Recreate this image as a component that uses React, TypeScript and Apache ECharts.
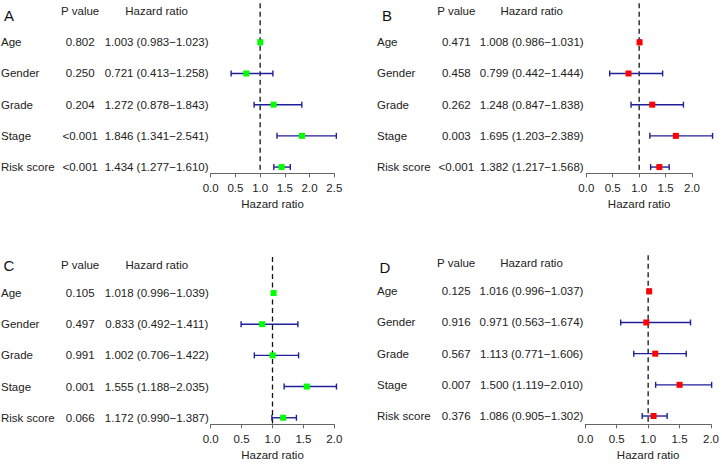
import React, { useEffect, useRef } from "react";
import * as echarts from "echarts";

// ---------- DATA ----------
const variables = ["Age", "Gender", "Grade", "Stage", "Risk score"];
const headerLabels = ["P value", "Hazard ratio"];
const panelLetters = ["A", "B", "C", "D"];
const referenceLine = 1;
const xTicksA = [0, 0.5, 1, 1.5, 2, 2.5];
const xTicksBCD = [0, 0.5, 1, 1.5, 2];

const pValuesA = ["0.802", "0.250", "0.204", "<0.001", "<0.001"];
const hrA = [1.003, 0.721, 1.272, 1.846, 1.434];
const lowA = [0.983, 0.413, 0.878, 1.341, 1.277];
const highA = [1.023, 1.258, 1.843, 2.541, 1.61];

const pValuesB = ["0.471", "0.458", "0.262", "0.003", "<0.001"];
const hrB = [1.008, 0.799, 1.248, 1.695, 1.382];
const lowB = [0.986, 0.442, 0.847, 1.203, 1.217];
const highB = [1.031, 1.444, 1.838, 2.389, 1.568];

const pValuesC = ["0.105", "0.497", "0.991", "0.001", "0.066"];
const hrC = [1.018, 0.833, 1.002, 1.555, 1.172];
const lowC = [0.996, 0.492, 0.706, 1.188, 0.99];
const highC = [1.039, 1.411, 1.422, 2.035, 1.387];

const pValuesD = ["0.125", "0.916", "0.567", "0.007", "0.376"];
const hrD = [1.016, 0.971, 1.113, 1.5, 1.086];
const lowD = [0.996, 0.563, 0.771, 1.119, 0.905];
const highD = [1.037, 1.674, 1.606, 2.01, 1.302];

// ---------- LAYOUT / STYLE ----------
const FONT = "'Liberation Sans', Arial, Helvetica, sans-serif";
const TEXT_COLOR = "#222";
const BAR_COLOR = "#1f1f99";

const panels = [
  {
    p: pValuesA, hr: hrA, lo: lowA, hi: highA, ticks: xTicksA, color: "#00ff00",
    left: 210.7, width: 123.6, top: 3.3, height: 170, yMin: -0.25, yMax: 5.2, headerRow: 0,
    labelX: 1, pX: 80.2, hrX: 156.6, letterX: 9, letterY: 15,
  },
  {
    p: pValuesB, hr: hrB, lo: lowB, hi: highB, ticks: xTicksBCD, color: "#ff0000",
    left: 586.3, width: 105.7, top: 3.3, height: 170, yMin: -0.25, yMax: 5.2, headerRow: 0,
    labelX: 377, pX: 456.3, hrX: 531.7, letterX: 387, letterY: 15,
  },
  {
    p: pValuesC, hr: hrC, lo: lowC, hi: highC, ticks: xTicksBCD, color: "#00ff00",
    left: 210.7, width: 123.6, top: 257, height: 167.3, yMin: -0.154, yMax: 5.21, headerRow: 0.11,
    labelX: 1, pX: 80.2, hrX: 156.8, letterX: 9, letterY: 265.5,
  },
  {
    p: pValuesD, hr: hrD, lo: lowD, hi: highD, ticks: xTicksBCD, color: "#ff0000",
    left: 585.3, width: 125.7, top: 255.3, height: 169, yMin: -0.155, yMax: 5.266, headerRow: 0.092,
    labelX: 377, pX: 456.2, hrX: 531.5, letterX: 385, letterY: 267,
  },
];

const fmt = (v: number) => v.toFixed(3);

export default function App() {
  const ref = useRef<HTMLDivElement>(null);

  useEffect(() => {
    document.body.style.margin = "0";
    if (!ref.current) return;
    const chart = echarts.init(ref.current, null, { renderer: "svg" });

    const grid: any[] = [];
    const xAxis: any[] = [];
    const yAxis: any[] = [];
    const series: any[] = [];
    const graphic: any[] = [];

    panels.forEach((pn, i) => {
      grid.push({ left: pn.left, top: pn.top, width: pn.width, height: pn.height, containLabel: false });
      const xMax = pn.ticks[pn.ticks.length - 1];
      xAxis.push({
        gridIndex: i,
        type: "value",
        min: pn.ticks[0],
        max: xMax,
        interval: 0.5,
        name: "Hazard ratio",
        nameLocation: "middle",
        nameGap: 25,
        nameTextStyle: { color: TEXT_COLOR, fontSize: 11.5, fontFamily: FONT },
        axisLine: { show: true, onZero: false, lineStyle: { color: "#666", width: 1 } },
        axisTick: { show: true, length: 4, lineStyle: { color: "#666" } },
        axisLabel: {
          color: TEXT_COLOR, fontSize: 11.5, fontFamily: FONT, margin: 9,
          formatter: (v: number) => v.toFixed(1),
        },
        splitLine: { show: false },
      });
      yAxis.push({
        gridIndex: i,
        type: "value",
        inverse: true,
        min: pn.yMin,
        max: pn.yMax,
        show: false,
        splitLine: { show: false },
      });

      // dashed reference line at HR = 1
      series.push({
        type: "line",
        xAxisIndex: i,
        yAxisIndex: i,
        data: [[referenceLine, pn.yMin], [referenceLine, pn.yMax]],
        symbol: "none",
        silent: true,
        lineStyle: { color: "#111", width: 1.3, type: [5, 3.5] },
        z: 1,
      });

      // forest marks
      const forestData = variables.map((_, k) => [pn.hr[k], pn.lo[k], pn.hi[k], k + 1]);
      const color = pn.color;
      series.push({
        type: "custom",
        xAxisIndex: i,
        yAxisIndex: i,
        clip: false,
        silent: true,
        z: 3,
        data: forestData,
        encode: { x: [0, 1, 2], y: 3 },
        renderItem: (_p: any, api: any) => {
          const hr = api.value(0), lo = api.value(1), hi = api.value(2), row = api.value(3);
          const a = api.coord([lo, row]);
          const b = api.coord([hi, row]);
          const c = api.coord([hr, row]);
          const cap = 3;
          const s = 3;
          const ls = { stroke: BAR_COLOR, lineWidth: 1.4 };
          return {
            type: "group",
            children: [
              { type: "line", shape: { x1: a[0], y1: a[1], x2: b[0], y2: b[1] }, style: ls },
              { type: "line", shape: { x1: a[0], y1: a[1] - cap, x2: a[0], y2: a[1] + cap }, style: ls },
              { type: "line", shape: { x1: b[0], y1: b[1] - cap, x2: b[0], y2: b[1] + cap }, style: ls },
              { type: "rect", shape: { x: c[0] - s, y: c[1] - s, width: 2 * s, height: 2 * s }, style: { fill: color } },
            ],
          };
        },
      });

      // text table (header row index -1)
      const textData: number[][] = [[0, pn.headerRow, -1]].concat(variables.map((_, k) => [0, k + 1, k]));
      series.push({
        type: "custom",
        xAxisIndex: i,
        yAxisIndex: i,
        clip: false,
        silent: true,
        z: 4,
        data: textData,
        encode: { x: 0, y: 1 },
        renderItem: (_p: any, api: any) => {
          const row = api.value(1);
          const idx = api.value(2);
          const y = api.coord([0, row])[1];
          const base = { fill: TEXT_COLOR, fontSize: 11.5, fontFamily: FONT, verticalAlign: "middle" };
          if (idx < 0) {
            return {
              type: "group",
              children: [
                { type: "text", style: { ...base, text: headerLabels[0], x: pn.pX, y, align: "center" } },
                { type: "text", style: { ...base, text: headerLabels[1], x: pn.hrX, y, align: "center" } },
              ],
            };
          }
          const hrText = `${fmt(pn.hr[idx])} (${fmt(pn.lo[idx])}\u2212${fmt(pn.hi[idx])})`;
          return {
            type: "group",
            children: [
              { type: "text", style: { ...base, text: variables[idx], x: pn.labelX, y, align: "left" } },
              { type: "text", style: { ...base, text: pn.p[idx], x: pn.pX, y, align: "center" } },
              { type: "text", style: { ...base, text: hrText, x: pn.hrX, y, align: "center" } },
            ],
          };
        },
      });

      graphic.push({
        type: "text",
        x: pn.letterX,
        y: pn.letterY,
        style: {
          text: panelLetters[i],
          fill: "#111",
          fontSize: 15,
          fontFamily: FONT,
          align: "center",
          verticalAlign: "middle",
        },
      });
    });

    chart.setOption({
      animation: false,
      backgroundColor: "#fff",
      grid,
      xAxis,
      yAxis,
      series,
      graphic,
    });

    return () => chart.dispose();
  }, []);

  return <div ref={ref} style={{ width: 722, height: 464 }} />;
}
